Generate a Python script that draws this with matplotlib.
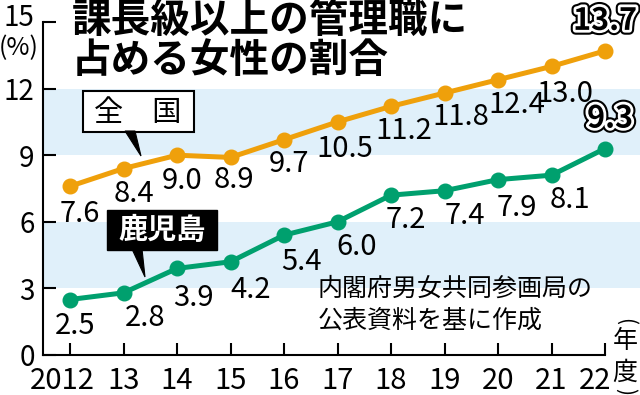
import matplotlib
matplotlib.use("Agg")
from matplotlib import pyplot as plt
from matplotlib import patheffects as pe
from matplotlib.patches import Rectangle, Polygon
from matplotlib.transforms import ScaledTranslation

# Data
years = [2012, 2013, 2014, 2015, 2016, 2017, 2018, 2019, 2020, 2021, 2022]
year_labels = ["2012", "13", "14", "15", "16", "17", "18", "19", "20", "21", "22"]
national = [7.6, 8.4, 9.0, 8.9, 9.7, 10.5, 11.2, 11.8, 12.4, 13.0, 13.7]
kagoshima = [2.5, 2.8, 3.9, 4.2, 5.4, 6.0, 7.2, 7.4, 7.9, 8.1, 9.3]
yticks = [0, 3, 6, 9, 12, 15]

ORANGE = "#EFA00B"
GREEN = "#00A06E"
BAND = "#E0F0FA"
NUM = ["Liberation Sans Narrow", "Noto Sans CJK JP", "DejaVu Sans"]
JP = ["Noto Sans CJK JP", "DejaVu Sans"]

W, H = 640, 395
def fx(px):
    return px / W
def fy(py):
    return 1 - py / H

fig = plt.figure(figsize=(6.4, 3.95), dpi=100)
x0, x1 = 2011.495, 2022.654
ax = fig.add_axes([fx(43), fy(355), fx(640) - fx(43), fy(22) - fy(355)])
ax.set_xlim(x0, x1)
ax.set_ylim(0, 15)

# bands
ax.axhspan(3, 6, color=BAND, lw=0, zorder=0)
ax.axhspan(9, 12, color=BAND, lw=0, zorder=0)

ax.plot(years, national, color=ORANGE, lw=3.6, marker="o", ms=10.5, zorder=3)
ax.plot(years, kagoshima, color=GREEN, lw=3.6, marker="o", ms=10.5, zorder=3)

# value labels (offsets in pixels: right, down)
nat_off = [(10, 28), (10, 25), (5, 26), (3, 23), (5, 24), (7, 27),
           (13, 25), (16, 24), (19, 25), (13, 28)]
kag_off = [(5, 27), (22, 25), (16, 30), (20, 28), (17, 27), (19, 25),
           (15, 25), (20, 25), (19, 28), (18, 25)]
for xs, ys, offs in [(years, national, nat_off), (years, kagoshima, kag_off)]:
    for xv, yv, (dx, dy) in zip(xs[:-1], ys[:-1], offs):
        ax.annotate(f"{yv:.1f}", (xv, yv), xytext=(dx, -dy), textcoords="offset pixels",
                    ha="center", va="center", fontsize=21, family=NUM, zorder=4)

halo = [pe.Stroke(linewidth=7, foreground="black"),
        pe.Stroke(linewidth=4, foreground="white"), pe.Normal()]
ax.annotate(f"{national[-1]:.1f}", (years[-1], national[-1]), xytext=(0, 30),
            textcoords="offset pixels", ha="center", va="center", fontsize=22,
            weight="bold", family=NUM, path_effects=halo, zorder=5, annotation_clip=False)
ax.annotate(f"{kagoshima[-1]:.1f}", (years[-1], kagoshima[-1]), xytext=(5, 30),
            textcoords="offset pixels", ha="center", va="center", fontsize=22,
            weight="bold", family=NUM, path_effects=halo, zorder=5, annotation_clip=False)

# axes styling
for s in ["top", "right"]:
    ax.spines[s].set_visible(False)
ax.spines["left"].set_linewidth(1.5)
ax.spines["bottom"].set_linewidth(1.5)
ax.spines["bottom"].set_bounds(x0, 2022)
ax.set_xticks(years)
ax.set_xticklabels(year_labels, family=NUM, fontsize=21)
ax.set_yticks(yticks)
ax.set_yticklabels([str(v) for v in yticks], family=NUM, fontsize=20)
ax.tick_params(axis="x", direction="in", length=8.6, width=1.5, pad=8)
ax.tick_params(axis="y", direction="in", length=9.4, width=1.5, pad=6)
lbls = ax.get_xticklabels()
lbls[0].set_transform(lbls[0].get_transform() + ScaledTranslation(-0.08, 0, fig.dpi_scale_trans))
lbls[-1].set_transform(lbls[-1].get_transform() + ScaledTranslation(-0.10, 0, fig.dpi_scale_trans))
ylb = ax.get_yticklabels()
ylb[-1].set_transform(ylb[-1].get_transform() + ScaledTranslation(0, 0.07, fig.dpi_scale_trans))

# title
fig.text(fx(72), fy(20), "課長級以上の管理職に", fontsize=28.5, weight="bold", family=JP,
         ha="left", va="center")
fig.text(fx(72), fy(61), "占める女性の割合", fontsize=28.5, weight="bold", family=JP,
         ha="left", va="center")
fig.text(fx(19), fy(48), "(%)", fontsize=18, family=NUM, ha="center", va="center")

# 全国 box
fig.patches.append(Rectangle((fx(83), fy(132)), fx(194) - fx(83), fy(91) - fy(132),
                             transform=fig.transFigure, facecolor="white", edgecolor="black",
                             lw=1.5, zorder=5))
fig.patches.append(Polygon([(fx(125), fy(131)), (fx(135), fy(131)), (fx(141), fy(156))],
                           closed=True, transform=fig.transFigure, facecolor="black",
                           edgecolor="black", lw=0.8, zorder=5))
fig.text(fx(138), fy(113), "全\u3000国", fontsize=21, family=JP, ha="center", va="center",
         zorder=6)

# 鹿児島 box
fig.patches.append(Rectangle((fx(107), fy(250)), fx(217) - fx(107), fy(210) - fy(250),
                             transform=fig.transFigure, facecolor="black", edgecolor="black",
                             lw=1, zorder=5))
fig.patches.append(Polygon([(fx(132), fy(249)), (fx(142), fy(249)), (fx(145), fy(277))],
                           closed=True, transform=fig.transFigure, facecolor="black",
                           edgecolor="black", lw=0.8, zorder=5))
fig.text(fx(162), fy(230), "鹿児島", fontsize=21, weight="bold", color="white", family=JP,
         ha="center", va="center", zorder=6)

# source
fig.text(fx(318), fy(289), "内閣府男女共同参画局の", fontsize=18, family=JP,
         ha="left", va="center")
fig.text(fx(318), fy(321), "公表資料を基に作成", fontsize=18, family=JP,
         ha="left", va="center")

# unit (vertical)
fig.text(fx(625), fy(322), "(", fontsize=15, family=JP, ha="center", va="center", rotation=-90)
fig.text(fx(625), fy(341), "年", fontsize=18, family=JP, ha="center", va="center")
fig.text(fx(625), fy(373), "度", fontsize=18, family=JP, ha="center", va="center")
fig.text(fx(625), fy(391), ")", fontsize=15, family=JP, ha="center", va="center", rotation=-90)

fig.savefig("out.png", dpi=100)
